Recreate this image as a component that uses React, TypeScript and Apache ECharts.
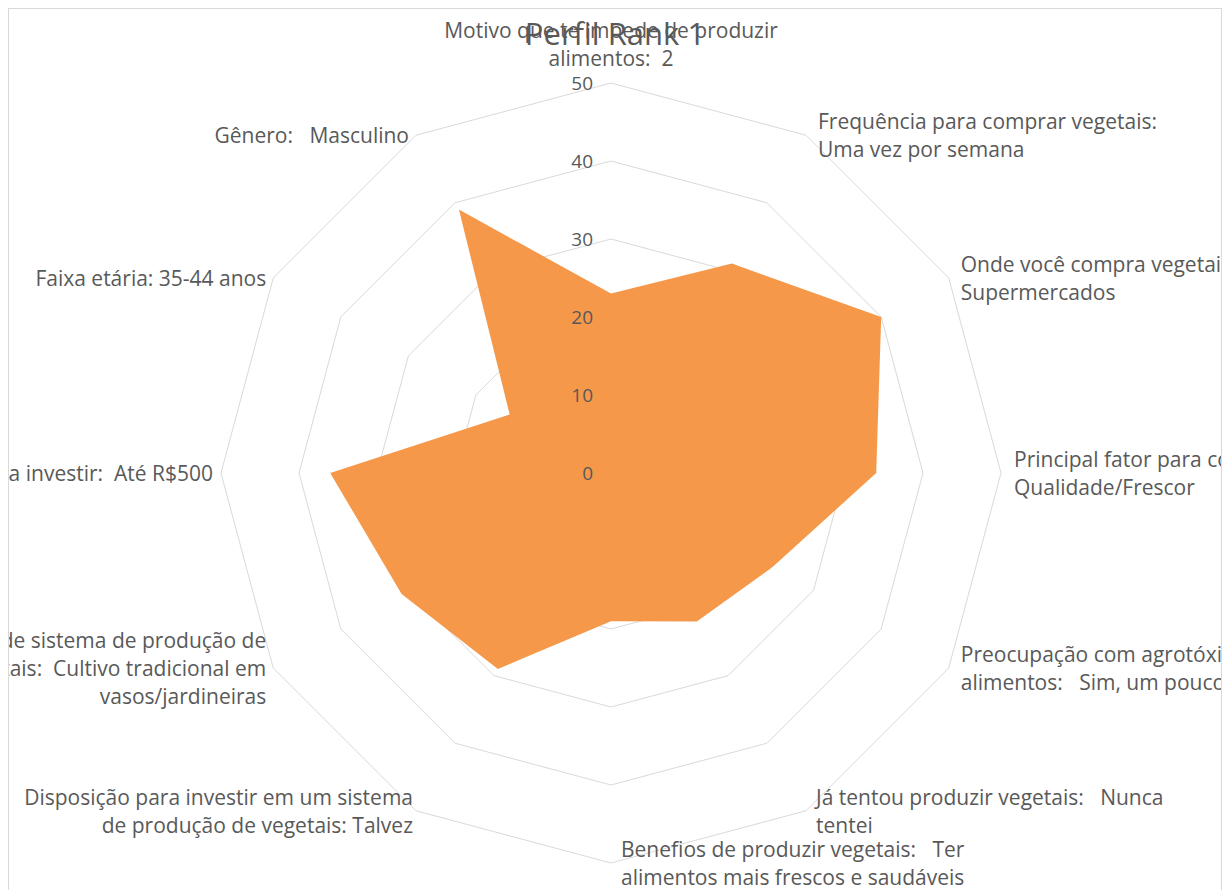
import React, { useEffect, useRef } from "react";
import * as echarts from "echarts";

const chartTitle = "Perfil Rank 1";

// Axes listed clockwise starting at the top (as in the reference)
const categories: string[] = [
  "Motivo que te impede de produzir\nalimentos:  2",
  "Frequência para comprar vegetais:\nUma vez por semana",
  "Onde você compra vegetais:\nSupermercados",
  "Principal fator para compra:\nQualidade/Frescor",
  "Preocupação com agrotóxicos nos\nalimentos:   Sim, um pouco",
  "Já tentou produzir vegetais:   Nunca\ntentei",
  "Benefios de produzir vegetais:   Ter\nalimentos mais frescos e saudáveis",
  "Disposição para investir em um sistema\nde produção de vegetais: Talvez",
  "Tipo de sistema de produção de\nvegetais:  Cultivo tradicional em\nvasos/jardineiras",
  "Valor disposto a investir:  Até R$500",
  "Faixa etária: 35-44 anos",
  "Gênero:   Masculino",
];

const values: number[] = [23, 31, 40, 34, 24, 22, 19, 29, 31, 36, 15, 39];

const axisMin = 0;
const axisMax = 50;
const splitCount = 5;

const FONT = "'Open Sans', sans-serif";
const TEXT = "#595959";
const FILL = "#F5984A";

// label placement per axis (clockwise order)
const nameLayout: { align: string; verticalAlign: string; padding: number[] }[] = [
  { align: "center", verticalAlign: "bottom", padding: [0, 0, 11, 0] },
  { align: "left", verticalAlign: "middle", padding: [0, 0, 0, 12] },
  { align: "left", verticalAlign: "middle", padding: [2, 0, 0, 12] },
  { align: "left", verticalAlign: "middle", padding: [8, 0, 0, 13] },
  { align: "left", verticalAlign: "middle", padding: [8, 0, 0, 12] },
  { align: "left", verticalAlign: "middle", padding: [8, 0, 0, 10] },
  { align: "left", verticalAlign: "middle", padding: [12, 0, 0, 10] },
  { align: "right", verticalAlign: "middle", padding: [8, 3, 0, 0] },
  { align: "right", verticalAlign: "middle", padding: [6, 7, 0, 0] },
  { align: "right", verticalAlign: "middle", padding: [0, 8, 0, 0] },
  { align: "right", verticalAlign: "middle", padding: [2, 7, 0, 0] },
  { align: "right", verticalAlign: "middle", padding: [0, 7, 0, 0] },
];

export default function App() {
  const ref = useRef<HTMLDivElement>(null);

  useEffect(() => {
    if (!ref.current) return;
    const chart = echarts.init(ref.current, undefined, { renderer: "svg" });

    // ECharts lays radar indicators counter-clockwise; reorder to get clockwise.
    const order = [0, ...categories.map((_, i) => i).slice(1).reverse()];

    const gridIndicators = order.map((i) => ({
      name: categories[i],
      min: axisMin,
      max: axisMax,
      nameTextStyle: {
        align: nameLayout[i].align,
        verticalAlign: nameLayout[i].verticalAlign,
        padding: nameLayout[i].padding,
      },
    }));

    // overlay radar carrying only the value labels of the first (top) axis,
    // drawn above the filled area
    const labelIndicators = order.map((i, k) => {
      const ind: any = { name: "", min: axisMin, max: axisMax };
      if (k === 0) {
        ind.axisLabel = {
          show: true,
          color: TEXT,
          fontSize: 19,
          fontFamily: FONT,
          margin: 18,
        };
      }
      return ind;
    });

    const common = {
      center: [602, 464],
      radius: 390,
      startAngle: 90,
      splitNumber: splitCount,
      shape: "polygon",
      axisNameGap: 0,
      axisLine: { show: false },
      axisTick: { show: false },
      axisLabel: { show: false },
      splitArea: { show: false },
    };

    chart.setOption({
      animation: false,
      backgroundColor: "#ffffff",
      title: {
        text: chartTitle,
        left: "center",
        top: 3,
        textStyle: {
          fontFamily: FONT,
          fontSize: 31,
          fontWeight: "normal",
          color: TEXT,
        },
      },
      radar: [
        {
          ...common,
          indicator: gridIndicators,
          axisName: {
            color: TEXT,
            fontSize: 21,
            fontFamily: FONT,
            lineHeight: 28,
          },
          splitLine: { lineStyle: { color: "#d9d9d9", width: 1 } },
        },
        {
          ...common,
          z: 5,
          indicator: labelIndicators,
          axisName: { show: false },
          splitLine: { show: false },
        },
      ],
      series: [
        {
          type: "radar",
          radarIndex: 0,
          symbol: "none",
          lineStyle: { width: 0, color: FILL },
          areaStyle: { color: FILL, opacity: 1 },
          data: [{ value: order.map((i) => values[i]), name: chartTitle }],
        },
      ],
    });

    return () => chart.dispose();
  }, []);

  return (
    <div
      style={{
        position: "fixed",
        left: 8,
        top: 8,
        width: 1214,
        height: 882,
        overflow: "hidden",
        boxSizing: "border-box",
        borderTop: "1px solid #d9d9d9",
        borderLeft: "1px solid #d9d9d9",
        borderRight: "1px solid #d9d9d9",
      }}
    >
      <div ref={ref} style={{ width: 1212, height: 900 }} />
    </div>
  );
}
